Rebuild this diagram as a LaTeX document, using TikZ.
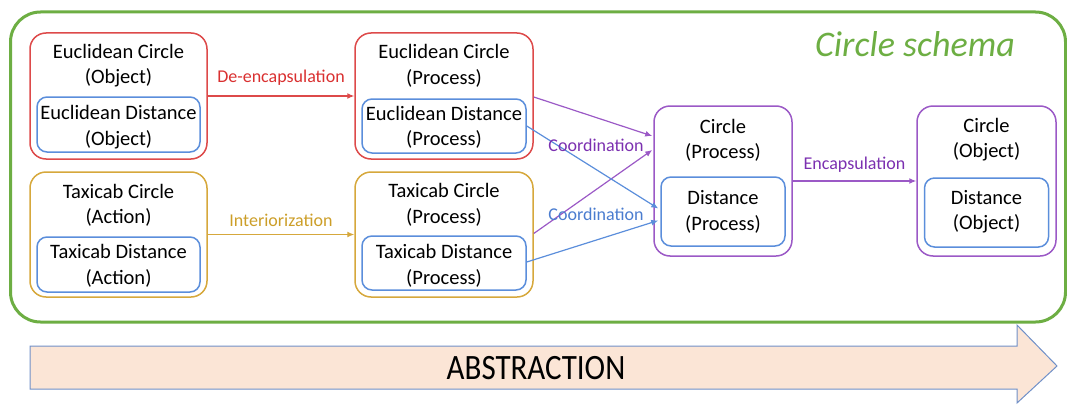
\documentclass[tikz,border=0pt]{standalone}
\usepackage{fontspec}
\setmainfont{Carlito}
\usetikzlibrary{arrows.meta,calc}
\definecolor{cred}{HTML}{DD4A4A}
\definecolor{tred}{HTML}{D93030}
\definecolor{cgold}{HTML}{D6A83C}
\definecolor{tgold}{HTML}{CC9E28}
\definecolor{cblue}{HTML}{5B8EDB}
\definecolor{tblue}{HTML}{4A7CCF}
\definecolor{cpurple}{HTML}{9B59C6}
\definecolor{tpurple}{HTML}{7B30B0}
\definecolor{cgreen}{HTML}{6DAE43}
\definecolor{peach}{HTML}{FBE5D6}
\definecolor{arrline}{HTML}{7090C8}
\tikzset{
  x=1pt,y=-1pt,
  outerbox/.style={draw=#1, line width=1.5pt, rounded corners=16pt, inner sep=0pt},
  innerbox/.style={draw=cblue, line width=1.5pt, rounded corners=10pt, inner sep=0pt},
  txt/.style={align=center, inner sep=0pt, font=\fontsize{20.5}{25.5}\selectfont},
  lbl/.style={inner sep=0pt, font=\fontsize{18}{22}\selectfont},
  conn/.style={draw=#1, line width=1.2pt, -{Latex[length=7pt,width=6pt]}},
}
\begin{document}
\begin{tikzpicture}
\useasboundingbox (0,0) rectangle (1067,404);
% outer schema frame
\node[draw=cgreen, line width=3pt, rounded corners=30pt, minimum width=1055pt, minimum height=310pt, inner sep=0pt] (frame) at (538,167) {};
\node[inner sep=0pt, text=cgreen, font=\fontsize{36}{40}\itshape] (title) at (915,44) {Circle schema};

% Euclidean circle object
\node[outerbox=cred, minimum width=177pt, minimum height=126pt] (r1) at (118.5,96) {};
\node[innerbox, minimum width=163pt, minimum height=55pt] (r1i) at (118.5,124.5) {};
\node[txt] (r1t) at (118.5,65.5) {Euclidean Circle\\(Object)};
\node[txt] (r1it) at (118.5,127) {Euclidean Distance\\(Object)};

% Euclidean circle process
\node[outerbox=cred, minimum width=178pt, minimum height=126pt] (r2) at (444,96) {};
\node[innerbox, minimum width=164pt, minimum height=54pt] (r2i) at (444,126) {};
\node[txt] (r2t) at (444,66) {Euclidean Circle\\(Process)};
\node[txt] (r2it) at (444,127.5) {Euclidean Distance\\(Process)};

% Taxicab circle action
\node[outerbox=cgold, minimum width=177pt, minimum height=125pt] (y1) at (118.5,234.5) {};
\node[innerbox, minimum width=163pt, minimum height=55pt] (y1i) at (118.5,264.5) {};
\node[txt] (y1t) at (118.5,205.5) {Taxicab Circle\\(Action)};
\node[txt] (y1it) at (118.5,266) {Taxicab Distance\\(Action)};

% Taxicab circle process
\node[outerbox=cgold, minimum width=178pt, minimum height=125pt] (y2) at (444,234.5) {};
\node[innerbox, minimum width=164pt, minimum height=54pt] (y2i) at (444,263) {};
\node[txt] (y2t) at (444,205) {Taxicab Circle\\(Process)};
\node[txt] (y2it) at (444,266) {Taxicab Distance\\(Process)};

% Circle process
\node[outerbox=cpurple, minimum width=138pt, minimum height=150pt] (p1) at (723,181) {};
\node[innerbox, minimum width=124pt, minimum height=69pt] (p1i) at (723,211.5) {};
\node[txt] (p1t) at (723,140.5) {Circle\\(Process)};
\node[txt] (p1it) at (723,212) {Distance\\(Process)};

% Circle object
\node[outerbox=cpurple, minimum width=139pt, minimum height=150pt] (p2) at (986.5,181) {};
\node[innerbox, minimum width=124pt, minimum height=69pt] (p2i) at (986.5,212.5) {};
\node[txt] (p2t) at (986.5,139.5) {Circle\\(Object)};
\node[txt] (p2it) at (986.5,211.5) {Distance\\(Object)};

% connectors
\draw[conn=cred] (r1.east) -- node[lbl, text=tred, midway, yshift=18pt] (l1) {De-encapsulation} (r2.west);
\draw[conn=cgold] (y1.east) -- node[lbl, text=tgold, midway, yshift=14pt] (l2) {Interiorization} (y2.west);
\draw[conn=cpurple] (p1.east) -- node[lbl, text=tpurple, midway, yshift=16pt] (l3) {Encapsulation} (p2.west);

\draw[conn=cpurple] ([yshift=-1pt]r2.east) -- ([xshift=-1pt,yshift=45pt]p1.west);
\draw[conn=cpurple] ([yshift=1pt]y2.east) -- ([xshift=-1pt,yshift=31pt]p1.west);
\draw[conn=cblue] (r2i.east) -- ([xshift=-2pt,yshift=3pt]p1i.west);
\draw[conn=cblue] ([yshift=1pt]y2i.east) -- ([xshift=-2pt,yshift=-9pt]p1i.west);
\node[lbl, text=tpurple] (c1) at (596,145) {Coordination};
\node[lbl, text=tblue] (c2) at (596,214) {Coordination};

% abstraction arrow
\draw[fill=peach, draw=arrline, line width=1pt]
  (30,346) -- (1017,346) -- (1017,325) -- (1057,366) -- (1017,403) -- (1017,389) -- (30,389) -- cycle;
\node[inner sep=0pt, font=\fontsize{31}{34}\selectfont] (abs) at (536,368) {\scalebox{1}[1.15]{ABSTRACTION}};
\end{tikzpicture}
\end{document}
